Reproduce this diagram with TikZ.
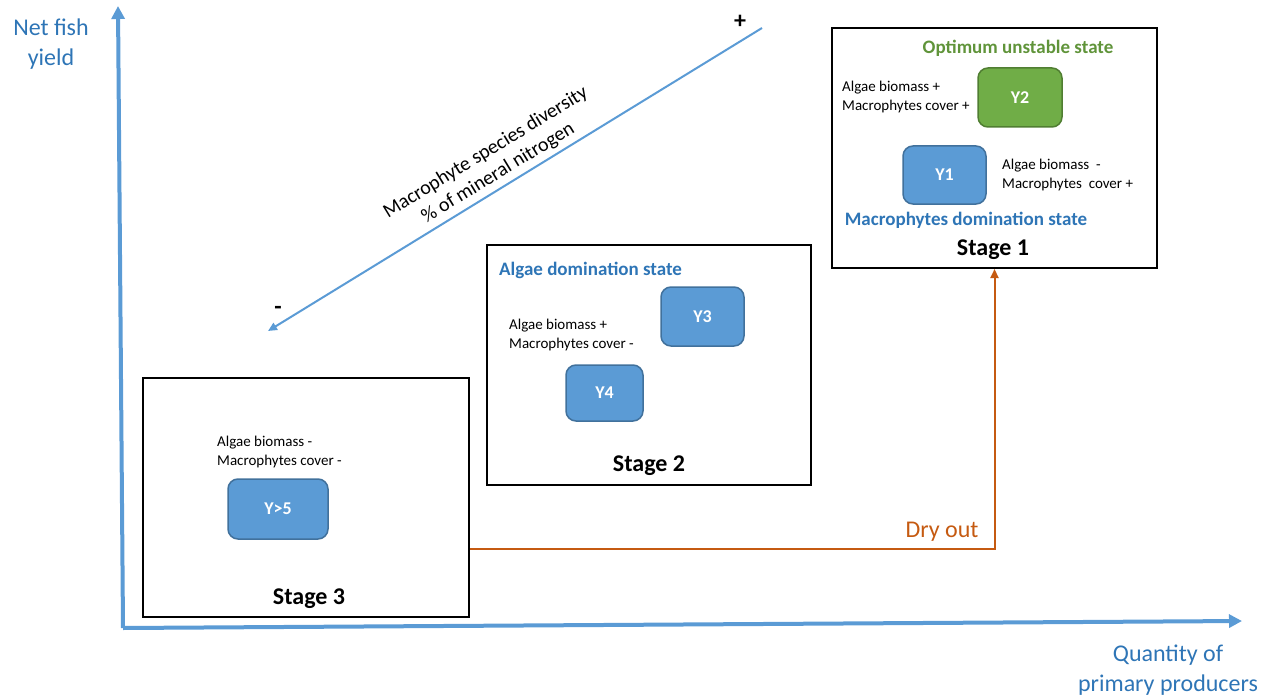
\documentclass[tikz,border=0pt]{standalone}
\usepackage{fontspec}
\setmainfont{Carlito}
\usepackage{tikz}
\usetikzlibrary{arrows.meta,positioning}
\definecolor{axisblue}{RGB}{91,155,213}
\definecolor{textblue}{RGB}{46,117,182}
\definecolor{boxblue}{RGB}{91,155,213}
\definecolor{edgeblue}{RGB}{65,113,156}
\definecolor{boxgreen}{RGB}{112,173,71}
\definecolor{edgegreen}{RGB}{80,126,50}
\definecolor{textgreen}{RGB}{96,148,58}
\definecolor{dryorange}{RGB}{197,90,17}
\tikzset{>/.tip={Triangle[length=13pt,width=13pt]}}
\tikzset{
  stagebox/.style={draw=black,line width=2pt,inner sep=0pt},
  ystate/.style={draw=edgeblue,fill=boxblue,line width=1.5pt,rounded corners=10pt,
    text=white,font=\fontsize{18}{21}\selectfont\bfseries,inner sep=0pt},
  effect/.style={align=left,font=\fontsize{15}{19}\selectfont,inner sep=0pt},
  statename/.style={font=\fontsize{19}{23}\selectfont\bfseries,inner sep=0pt},
  stagename/.style={font=\fontsize{24}{28}\selectfont\bfseries,inner sep=0pt},
  axislabel/.style={text=textblue,align=center,font=\fontsize{24}{30}\selectfont,inner sep=0pt}
}

\begin{document}
\begin{tikzpicture}[x=1pt,y=-1pt]
        \useasboundingbox (0,0) rectangle (1274,698);
        % axes
        \coordinate (O) at (123,628);
        \coordinate (ytip) at (118,6);
        \coordinate (xtip) at (1242,621);
        \draw[axisblue,line width=4pt,->] (O) -- (ytip);
        \draw[axisblue,line width=4pt,->] (O) -- (xtip);
        \node(yl)[axislabel] at (51,44){Net fish\\yield};
        \node(xl)[axislabel] at (1168,670){Quantity of\\primary producers};
        % diversity gradient
        \coordinate (divhi) at (762,28);
        \coordinate (divlo) at (268,331);
        \draw[axisblue,line width=2pt,-{Triangle[length=9pt,width=8pt]}] (divhi) -- (divlo);
        \node(plus)[font=\fontsize{24}{28}\selectfont\bfseries] at (740,22){+};
        \node(minus)[font=\fontsize{24}{28}\selectfont\bfseries] at (278,310){-};
        \node(divtext)[rotate=31.4,align=center,font=\fontsize{20}{24}\selectfont]
          at (492,163){Macrophyte species diversity\\\% of mineral nitrogen};
        % stages
        \node(s3)[stagebox,minimum width=326pt,minimum height=239pt] at (306,497.5){};
        \node(s2)[stagebox,minimum width=324pt,minimum height=240pt] at (649,365){};
        \node(s1)[stagebox,minimum width=325pt,minimum height=240pt] at (994.5,148){};
        \node(st3)[stagename] at (309,599){Stage 3};
        \node(st2)[stagename] at (649,466){Stage 2};
        \node(st1)[stagename] at (993,250){Stage 1};
        % stage 1
        \node(opt)[statename,text=textgreen] at (1018,48){Optimum unstable state};
        \node(Y2)[ystate,draw=edgegreen,fill=boxgreen,minimum width=84pt,minimum height=59pt]
          at (1020,97.5){Y2};
        \node(Y1)[ystate,minimum width=83pt,minimum height=58pt] at (944.5,175){Y1};
        \node(e2)[effect,anchor=west] at (842,97){Algae biomass +\\Macrophytes cover +};
        \node(e1)[effect,anchor=west] at (1002,175){Algae biomass\ \ -\\Macrophytes\ \ cover +};
        \node(mac)[statename,text=textblue] at (966,220){Macrophytes domination state};
        % stage 2
        \node(alg)[statename,text=textblue,anchor=west] at (499,270){Algae domination state};
        \node(Y3)[ystate,minimum width=83pt,minimum height=59pt] at (702.5,316.5){Y3};
        \node(Y4)[ystate,minimum width=77pt,minimum height=56pt] at (604.5,393){Y4};
        \node(e3)[effect,anchor=west] at (509,335){Algae biomass +\\Macrophytes cover -};
        % stage 3
        \node(e5)[effect,anchor=west] at (217,452){Algae biomass -\\Macrophytes cover -};
        \node(Y5)[ystate,minimum width=100pt,minimum height=60pt] at (278,509){Y>5};
        % dry out
        \draw[dryorange,line width=2pt,-{Triangle[length=9pt,width=8pt]}]
          ([yshift=-51.5pt]s3.east) -| node[pos=0.45,above=3pt,font=\fontsize{24}{28}\selectfont]{Dry out} (s1.south);
      \end{tikzpicture}
\end{document}
